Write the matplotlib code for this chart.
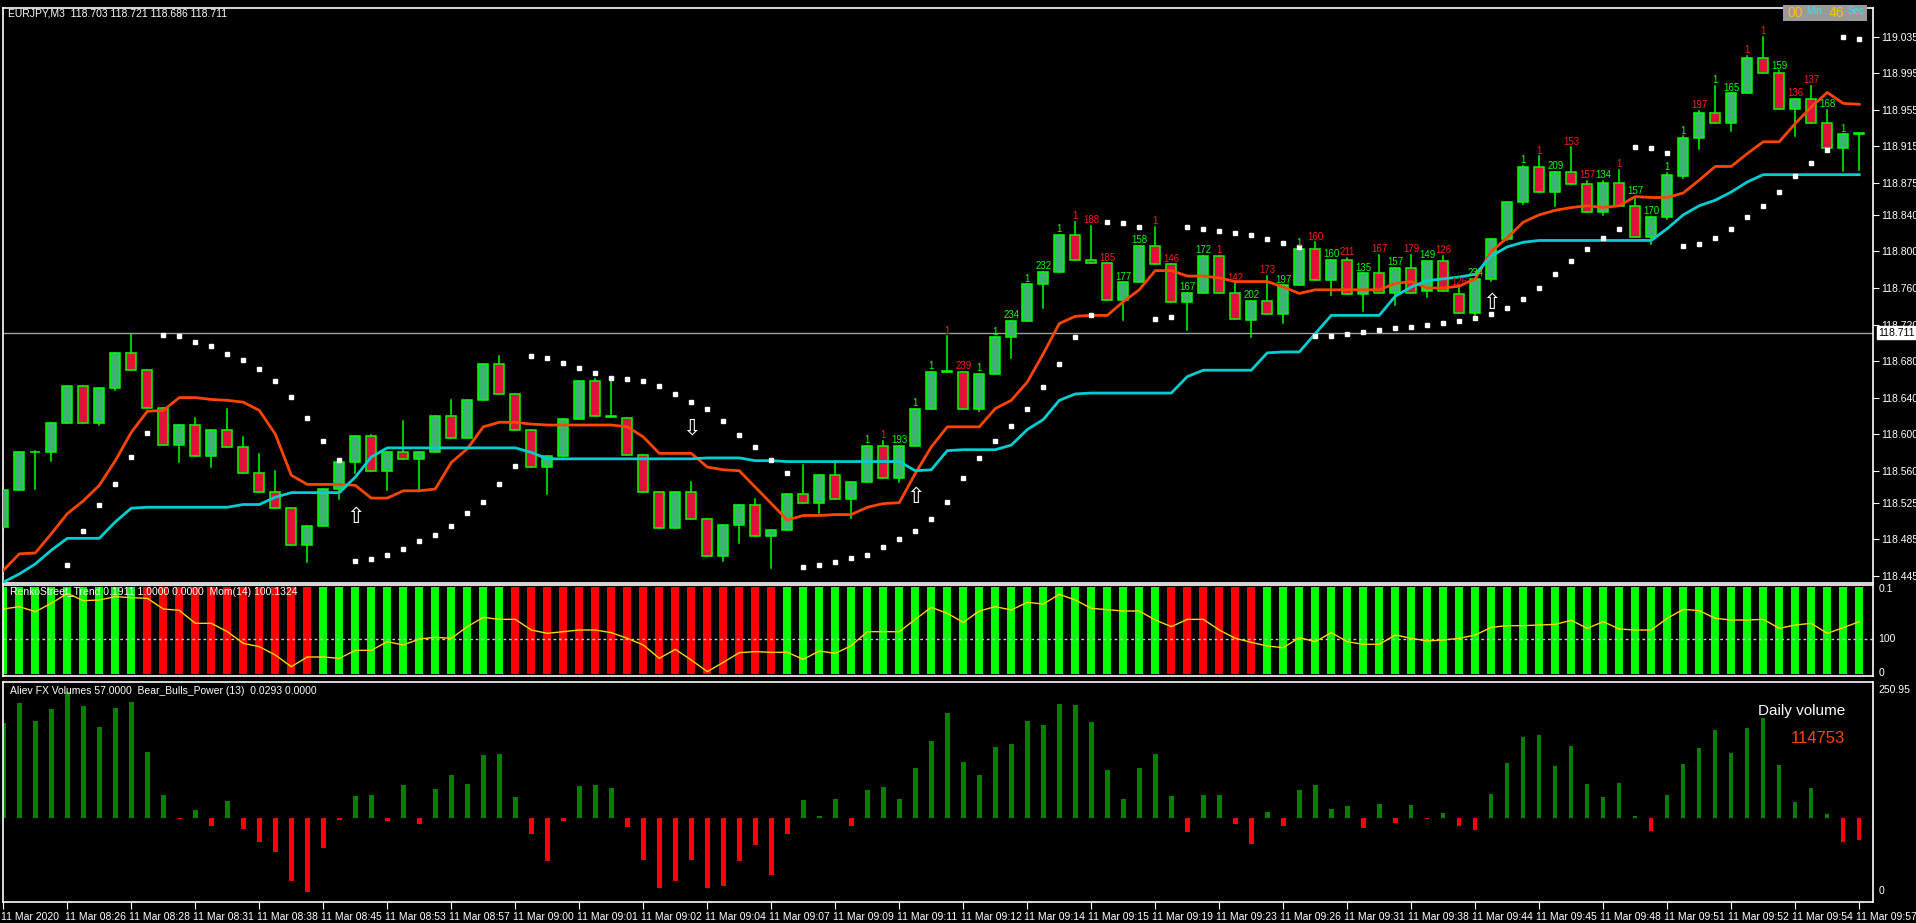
import numpy as np
import matplotlib
matplotlib.use("Agg")
import matplotlib.pyplot as plt
from matplotlib.patches import Rectangle
import matplotlib.transforms as mtrans

plt.rcParams['font.family'] = ['Liberation Sans', 'DejaVu Sans']

opens = [118.498,118.539,118.580,118.580,118.612,118.653,118.612,118.651,118.689,118.670,
         118.629,118.588,118.610,118.576,118.605,118.586,118.557,118.537,118.519,118.479,
         118.500,118.540,118.570,118.598,118.560,118.580,118.573,118.580,118.620,118.596,
         118.637,118.677,118.644,118.605,118.564,118.576,118.617,118.658,118.620,118.618,
         118.577,118.537,118.497,118.537,118.507,118.467,118.501,118.522,118.489,118.495,
         118.535,118.525,118.555,118.529,118.548,118.587,118.552,118.587,118.628,118.668,
         118.668,118.627,118.666,118.706,118.724,118.764,118.778,118.818,118.791,118.787,
         118.747,118.766,118.806,118.786,118.745,118.755,118.795,118.755,118.725,118.746,
         118.732,118.763,118.803,118.769,118.791,118.753,118.776,118.755,118.782,118.757,
         118.790,118.753,118.733,118.770,118.814,118.854,118.892,118.865,118.887,118.874,
         118.843,118.875,118.850,118.816,118.838,118.883,118.924,118.952,118.940,118.973,
         119.012,118.995,118.956,118.967,118.940,118.913,118.928]
highs = [118.542,118.580,118.582,118.612,118.653,118.653,118.651,118.689,118.710,118.670,
         118.629,118.610,118.618,118.605,118.627,118.597,118.578,118.560,118.519,118.500,
         118.540,118.573,118.598,118.599,118.580,118.614,118.580,118.620,118.637,118.637,
         118.677,118.685,118.644,118.605,118.576,118.617,118.658,118.660,118.658,118.618,
         118.577,118.537,118.537,118.548,118.507,118.501,118.522,118.529,118.495,118.535,
         118.566,118.555,118.569,118.548,118.587,118.593,118.587,118.628,118.668,118.707,
         118.668,118.666,118.706,118.724,118.764,118.778,118.818,118.832,118.828,118.787,
         118.766,118.806,118.827,118.786,118.755,118.795,118.795,118.765,118.746,118.773,
         118.763,118.803,118.810,118.791,118.793,118.776,118.796,118.782,118.796,118.790,
         118.795,118.760,118.770,118.814,118.854,118.894,118.904,118.887,118.914,118.877,
         118.877,118.889,118.860,118.838,118.886,118.926,118.954,118.981,118.973,119.014,
         119.035,118.997,118.967,118.981,118.955,118.928,118.930]
lows = [118.495,118.539,118.540,118.571,118.612,118.612,118.610,118.648,118.670,118.629,
        118.588,118.570,118.576,118.564,118.586,118.557,118.537,118.519,118.479,118.460,
        118.500,118.529,118.558,118.560,118.539,118.573,118.540,118.580,118.596,118.596,
        118.637,118.644,118.605,118.564,118.535,118.576,118.617,118.620,118.619,118.577,
        118.537,118.497,118.497,118.507,118.467,118.461,118.481,118.489,118.454,118.495,
        118.525,118.514,118.529,118.508,118.548,118.552,118.548,118.587,118.628,118.668,
        118.627,118.625,118.666,118.683,118.724,118.738,118.778,118.791,118.787,118.747,
        118.725,118.766,118.786,118.745,118.714,118.755,118.755,118.726,118.706,118.732,
        118.722,118.763,118.769,118.752,118.753,118.735,118.755,118.741,118.755,118.750,
        118.757,118.733,118.730,118.768,118.812,118.852,118.865,118.850,118.874,118.843,
        118.840,118.850,118.816,118.808,118.836,118.880,118.912,118.940,118.932,118.973,
        118.995,118.956,118.926,118.940,118.913,118.888,118.889]
closes = [118.539,118.580,118.581,118.612,118.653,118.612,118.651,118.689,118.670,118.629,
          118.588,118.610,118.576,118.605,118.586,118.557,118.537,118.519,118.479,118.500,
          118.540,118.570,118.598,118.560,118.580,118.573,118.580,118.620,118.596,118.637,
          118.677,118.644,118.605,118.564,118.576,118.617,118.658,118.620,118.619,118.577,
          118.537,118.497,118.537,118.507,118.467,118.501,118.522,118.489,118.495,118.535,
          118.525,118.555,118.529,118.548,118.587,118.552,118.587,118.628,118.668,118.668,
          118.627,118.666,118.706,118.724,118.764,118.778,118.818,118.791,118.787,118.747,
          118.766,118.806,118.786,118.745,118.755,118.795,118.755,118.726,118.746,118.732,
          118.763,118.803,118.769,118.791,118.753,118.776,118.755,118.782,118.755,118.790,
          118.757,118.733,118.770,118.814,118.854,118.892,118.865,118.887,118.874,118.843,
          118.875,118.850,118.816,118.838,118.884,118.924,118.952,118.940,118.973,119.012,
          118.995,118.956,118.967,118.940,118.913,118.928,118.930]

orange_line = [118.451,118.469,118.470,118.491,118.513,118.527,118.544,118.571,118.602,118.625,
               118.626,118.640,118.640,118.638,118.637,118.635,118.626,118.600,118.555,118.545,
               118.545,118.545,118.544,118.530,118.530,118.538,118.538,118.540,118.569,118.584,
               118.608,118.613,118.613,118.611,118.610,118.610,118.610,118.610,118.610,118.608,
               118.597,118.579,118.579,118.579,118.564,118.561,118.560,118.542,118.524,118.506,
               118.511,118.511,118.512,118.512,118.520,118.524,118.525,118.557,118.586,118.608,
               118.608,118.608,118.628,118.637,118.657,118.688,118.721,118.729,118.730,118.730,
               118.745,118.758,118.779,118.779,118.773,118.773,118.771,118.767,118.767,118.767,
               118.761,118.754,118.758,118.758,118.758,118.758,118.758,118.765,118.767,118.760,
               118.760,118.762,118.770,118.800,118.815,118.832,118.840,118.845,118.848,118.850,
               118.848,118.850,118.860,118.859,118.859,118.864,118.878,118.893,118.893,118.907,
               118.920,118.920,118.940,118.958,118.974,118.962,118.961]
cyan_line = [118.438,118.447,118.458,118.473,118.486,118.486,118.486,118.504,118.519,118.520,
             118.520,118.520,118.520,118.520,118.520,118.523,118.523,118.531,118.536,118.536,
             118.536,118.536,118.553,118.575,118.585,118.585,118.585,118.585,118.585,118.585,
             118.585,118.585,118.585,118.580,118.573,118.573,118.573,118.573,118.573,118.573,
             118.573,118.573,118.573,118.573,118.574,118.574,118.574,118.571,118.571,118.570,
             118.570,118.570,118.570,118.570,118.570,118.570,118.570,118.560,118.561,118.582,
             118.583,118.583,118.583,118.588,118.605,118.616,118.637,118.644,118.645,118.645,
             118.645,118.645,118.645,118.645,118.663,118.670,118.670,118.670,118.670,118.689,
             118.690,118.690,118.710,118.730,118.730,118.730,118.730,118.751,118.761,118.768,
             118.770,118.772,118.775,118.795,118.805,118.810,118.812,118.812,118.812,118.812,
             118.812,118.812,118.812,118.812,118.825,118.840,118.850,118.856,118.865,118.876,
             118.884,118.884,118.884,118.884,118.884,118.884,118.884]
psar = [np.nan,np.nan,np.nan,np.nan,118.457,118.494,118.522,118.545,118.575,118.601,
        118.709,118.707,118.701,118.696,118.688,118.681,118.671,118.658,118.641,118.618,
        118.593,118.572,118.461,118.463,118.468,118.474,118.483,118.490,118.500,118.514,
        118.526,118.545,118.565,118.685,118.683,118.678,118.672,118.667,118.661,118.660,
        118.658,118.653,118.644,118.635,118.627,118.614,118.599,118.586,118.572,118.558,
        118.455,118.457,118.460,118.464,118.468,118.476,118.485,118.494,118.507,118.526,
        118.552,118.574,118.593,118.609,118.628,118.652,118.677,118.706,118.730,118.832,
        118.831,118.827,118.726,118.728,118.827,118.825,118.822,118.820,118.818,118.814,
        118.809,118.805,118.707,118.707,118.710,118.712,118.714,118.716,118.717,118.720,
        118.722,118.724,118.727,118.731,118.738,118.748,118.760,118.775,118.790,118.803,
        118.815,118.825,118.914,118.913,118.908,118.806,118.808,118.815,118.825,118.838,
        118.850,118.865,118.882,118.897,118.911,119.035,119.033]

label_bars = [54,55,56,57,58,59,60,61,62,63,64,65,66,67,68,69,70,71,72,73,74,75,76,77,78,79,80,
              81,82,83,84,85,86,87,88,89,90,91,92,95,96,97,98,99,100,101,102,103,104,105,106,
              107,108,109,110,111,112,113,114,115,116]
label_texts = ["1","1","193","1","1","1","239","1","1","234","1","232","1","1","188","185","177",
               "158","1","146","167","172","1","142","202","173","197","1","160","160","211","135",
               "167","157","179","149","126","126","234","1","1","209","153","157","134","1","157",
               "170","1","1","197","1","165","1","1","159","136","137","168","1","199"]
label_up = "GRGGGRRGGGGGGRRRGGRRGGRRGRGGRGRGRGRGRRGGRGRRGRGGGGRGGRRGRRGG"

up_arrow_bars = [22, 57, 93]
up_arrow_prices = [118.509, 118.531, 118.743]
down_arrow_bars = [43]
down_arrow_prices = [118.606]

renko_trend = ("GGGGGGGGGRRRRRRRRRRRGGGGGGGGGGGGRRRRRRRRRRRRRRRRRGGGGGGGGGGGGGGGGGGGGGGGGRRRRRR"
               "GGGGGGGGGGGGGGGGGGGGGGGGGGGGGGGGGGGGGG")
momentum = [100.090,100.097,100.082,100.107,100.137,100.115,100.117,100.127,100.124,100.122,
            100.090,100.086,100.047,100.047,100.022,99.987,99.977,99.952,99.917,99.946,
            99.946,99.942,99.966,99.966,99.992,99.982,100.000,100.005,100.002,100.037,
            100.065,100.059,100.059,100.027,100.017,100.022,100.027,100.027,100.019,100.002,
            99.982,99.942,99.969,99.937,99.902,99.930,99.959,99.962,99.960,99.960,
            99.939,99.964,99.957,99.980,100.022,100.022,100.022,100.059,100.095,100.077,
            100.050,100.084,100.097,100.087,100.110,100.105,100.134,100.117,100.092,100.088,
            100.084,100.084,100.057,100.037,100.059,100.059,100.027,100.002,99.990,99.979,
            99.974,100.004,99.992,100.019,99.992,99.984,99.984,100.012,100.002,99.994,
            99.997,100.002,100.012,100.035,100.040,100.040,100.042,100.044,100.056,100.032,
            100.052,100.030,100.027,100.027,100.062,100.089,100.085,100.062,100.057,100.057,
            100.059,100.032,100.042,100.047,100.017,100.034,100.052]

volume_power = [95,115,97,109,126,112,91,110,116,66,23,-1,8,-8,17,-11,-24,-34,-63,-74,
                -30,-2,22,23,-3,33,-6,29,43,34,63,64,21,-16,-43,-3,32,33,30,-9,
                -42,-70,-63,-42,-70,-68,-43,-27,-57,-16,18,2,19,-8,28,31,19,50,77,105,
                56,43,71,74,97,93,114,113,96,48,19,50,64,22,-14,23,23,-6,-26,6,
                -8,28,33,9,12,-10,14,-5,13,-1,5,-8,-12,24,55,81,83,52,72,34,
                21,35,2,-13,23,54,70,88,65,90,100,53,16,30,4,-24,-22]

time_labels = ["11 Mar 2020","11 Mar 08:26","11 Mar 08:28","11 Mar 08:31","11 Mar 08:38",
               "11 Mar 08:45","11 Mar 08:53","11 Mar 08:57","11 Mar 09:00","11 Mar 09:01",
               "11 Mar 09:02","11 Mar 09:04","11 Mar 09:07","11 Mar 09:09","11 Mar 09:11",
               "11 Mar 09:12","11 Mar 09:14","11 Mar 09:15","11 Mar 09:19","11 Mar 09:23",
               "11 Mar 09:26","11 Mar 09:31","11 Mar 09:38","11 Mar 09:44","11 Mar 09:45",
               "11 Mar 09:48","11 Mar 09:51","11 Mar 09:52","11 Mar 09:54","11 Mar 09:57"]
price_ticks = [119.035,118.995,118.955,118.915,118.875,118.840,118.800,118.760,118.720,
               118.680,118.640,118.600,118.560,118.525,118.485,118.445]
last_price = 118.711

W, H = 1916, 923
FS = 7.5
fig = plt.figure(figsize=(W/100, H/100), dpi=100, facecolor='black')
def box(x0, y0, x1, y1):
    return [x0/W, 1-y1/H, (x1-x0)/W, (y1-y0)/H]

n = len(opens)
xs = np.arange(n)
XL = (-0.02, 116.86)
GREEN_BODY = '#3cb371'; RED_BODY = '#dc143c'; EDGE = '#00ff00'

def style(ax):
    ax.set_facecolor('black')
    for s in ax.spines.values():
        s.set_color('white'); s.set_linewidth(1.2)
    ax.set_xlim(*XL)
    ax.set_xticks([])
    ax.yaxis.tick_right()
    ax.tick_params(axis='y', colors='white', labelsize=FS, length=4, direction='out', pad=2)

# ---------- main price panel ----------
ax = fig.add_axes(box(3, 8, 1873, 583))
style(ax)
ax.set_ylim(118.4371, 119.0664)
ax.set_yticks(price_ticks)
ax.set_yticklabels([f"{p:.3f}" for p in price_ticks])
ax.axhline(last_price, color='#a0a0a8', lw=1)
bw = 0.62
for i in range(n):
    o, h, l, c = opens[i], highs[i], lows[i], closes[i]
    up = c >= o
    ax.plot([i, i], [l, h], color=EDGE, lw=1.1, zorder=2)
    bot = min(o, c); ht = max(abs(c - o), 0.0008)
    ax.add_patch(Rectangle((i - bw/2, bot), bw, ht, facecolor=GREEN_BODY if up else RED_BODY,
                           edgecolor=EDGE, lw=1.1, zorder=3))
ax.plot(xs, orange_line, color='#ff4500', lw=2, zorder=4)
ax.plot(xs, cyan_line, color='#00ced1', lw=2, zorder=4)
ax.plot(xs, psar, ls='none', marker='s', ms=2.6, color='white', zorder=5)
for b, t, g in zip(label_bars, label_texts, label_up):
    ax.annotate(t, (b, highs[b]), xytext=(0, 0.5), textcoords='offset points', ha='center',
                va='bottom', fontsize=7, color='#00ff00' if g == 'G' else '#ff1a1a', zorder=6)
for b, p in zip(up_arrow_bars, up_arrow_prices):
    ax.text(b, p, '⇧', ha='center', va='center', fontsize=16, color='white', zorder=6,
            family='DejaVu Sans')
for b, p in zip(down_arrow_bars, down_arrow_prices):
    ax.text(b, p, '⇩', ha='center', va='center', fontsize=16, color='white', zorder=6,
            family='DejaVu Sans')
ax.annotate(f"{last_price:.3f}", xy=(1.0, last_price), xycoords=('axes fraction', 'data'),
            xytext=(4, 0), textcoords='offset points', ha='left', va='center', fontsize=FS,
            color='black', bbox=dict(boxstyle='square,pad=0.15', fc='white', ec='white'))
fig.text(8/W, 1-14/H, "EURJPY,M3  118.703 118.721 118.686 118.711", color='white',
         fontsize=FS, va='center', ha='left')
# timer box
fig.patches.append(Rectangle((1783/W, 1-21/H), 84/W, 16/H, transform=fig.transFigure,
                             facecolor='#9a9a9a', edgecolor='none'))
fig.text(1787/W, 1-13/H, "00", color='#ffc000', fontsize=10, va='center')
fig.text(1806/W, 1-11/H, "Min", color='#40e0f0', fontsize=7, va='center')
fig.text(1829/W, 1-13/H, "46", color='#ffc000', fontsize=10, va='center')
fig.text(1848/W, 1-11/H, "Sec", color='#40e0f0', fontsize=7, va='center')

# ---------- RenkoStreet / Momentum panel ----------
ax2 = fig.add_axes(box(3, 585, 1873, 676))
style(ax2)
ax2.set_ylim(99.889, 100.162)
ax2.set_yticks([])
for i, t in enumerate(renko_trend[:n]):
    ax2.bar(i, 0.262, bottom=99.894, width=0.5, color='#00ff00' if t == 'G' else '#ff0000')
ax2.axhline(100.0, color='#c8c8c8', lw=1, ls=(0, (2, 2)))
ax2.plot(xs, momentum, color='#ffd700', lw=1)
ax2.text(0.004, 0.92, "RenkoStreet_Trend 0.1911 1.0000 0.0000  Mom(14) 100.1324",
         transform=ax2.transAxes, color='white', fontsize=FS, va='center')
for txt, yv in [("0.1", 100.150), ("100", 100.0), ("0", 99.898)]:
    ax2.annotate(txt, xy=(1.0, yv), xycoords=('axes fraction', 'data'), xytext=(4, 0),
                 textcoords='offset points', color='white', fontsize=FS, va='center')

# ---------- volume panel ----------
ax3 = fig.add_axes(box(3, 682, 1873, 902))
style(ax3)
ax3.set_ylim(-84, 136)
ax3.set_yticks([])
vcol = ['#008000' if v >= 0 else '#ff0000' for v in volume_power]
ax3.bar(xs, volume_power, width=0.28, color=vcol)
ax3.text(0.004, 0.96, "Aliev FX Volumes 57.0000  Bear_Bulls_Power (13)  0.0293 0.0000",
         transform=ax3.transAxes, color='white', fontsize=FS, va='center')
ax3.text(0.985, 0.87, "Daily volume", transform=ax3.transAxes, color='white', fontsize=11,
         ha='right', va='center')
ax3.text(0.985, 0.745, "114753", transform=ax3.transAxes, color='#ff4500', fontsize=12,
         ha='right', va='center')
ax3.annotate("250.95", xy=(1.0, 1.0), xycoords='axes fraction', xytext=(4, -6),
             textcoords='offset points', color='white', fontsize=FS, va='center')
ax3.annotate("0", xy=(1.0, 0.0), xycoords='axes fraction', xytext=(4, 8),
             textcoords='offset points', color='white', fontsize=FS, va='center')
tick_pos = list(range(0, n, 4))
ax3.set_xticks(tick_pos)
ax3.set_xticklabels(time_labels[:len(tick_pos)], ha='left')
ax3.tick_params(axis='x', colors='white', labelsize=FS, length=5, direction='out', pad=2)
off = mtrans.ScaledTranslation(-2/72, 0, fig.dpi_scale_trans)
for lab in ax3.get_xticklabels():
    lab.set_transform(lab.get_transform() + off)

fig.savefig("out.png", dpi=100, facecolor='black')
